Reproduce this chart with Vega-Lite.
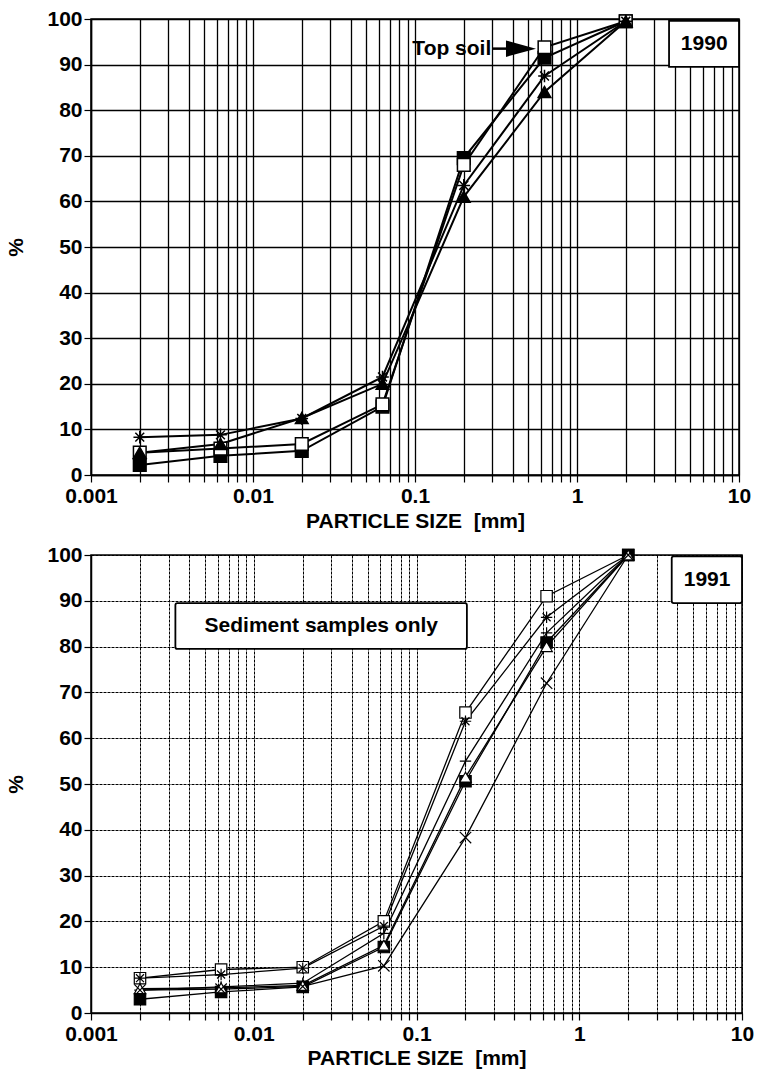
{
  "$schema": "https://vega.github.io/schema/vega-lite/v6.json",
  "background": "white",
  "padding": {"left": 5, "top": 7, "right": 10, "bottom": 5},
  "spacing": 11,
  "config": {
    "font": "Liberation Sans",
    "view": {"stroke": "black", "strokeWidth": 1.5},
    "axis": {
      "labelFont": "Liberation Sans", "labelFontWeight": "bold", "labelFontSize": 21, "labelColor": "black",
      "titleFont": "Liberation Sans", "titleFontWeight": "bold", "titleFontSize": 21, "titleColor": "black",
      "domainColor": "black", "domainWidth": 1.5, "tickColor": "black", "tickSize": 7, "tickWidth": 1.2,
      "gridColor": "black", "gridOpacity": 1, "labelPadding": 2
    }
  },
  "datasets": {
    "top": [
      {"series": "filled square", "size": 0.002, "pct": 2.2},
      {"series": "filled square", "size": 0.0063, "pct": 4.2},
      {"series": "filled square", "size": 0.02, "pct": 5.3},
      {"series": "filled square", "size": 0.063, "pct": 15},
      {"series": "filled square", "size": 0.2, "pct": 69.5},
      {"series": "filled square", "size": 0.63, "pct": 91.5},
      {"series": "filled square", "size": 2, "pct": 99.5},
      {"series": "open square", "size": 0.002, "pct": 4.9},
      {"series": "open square", "size": 0.0063, "pct": 5.8},
      {"series": "open square", "size": 0.02, "pct": 6.8},
      {"series": "open square", "size": 0.063, "pct": 15.5},
      {"series": "open square", "size": 0.2, "pct": 68},
      {"series": "open square", "size": 0.63, "pct": 93.8},
      {"series": "open square", "size": 2, "pct": 99.5},
      {"series": "star", "size": 0.002, "pct": 8.3},
      {"series": "star", "size": 0.0063, "pct": 8.8},
      {"series": "star", "size": 0.02, "pct": 12.4},
      {"series": "star", "size": 0.063, "pct": 21.5},
      {"series": "star", "size": 0.2, "pct": 63.5},
      {"series": "star", "size": 0.63, "pct": 87.5},
      {"series": "star", "size": 2, "pct": 99.5},
      {"series": "triangle", "size": 0.002, "pct": 4.9},
      {"series": "triangle", "size": 0.0063, "pct": 6.8},
      {"series": "triangle", "size": 0.02, "pct": 12.5},
      {"series": "triangle", "size": 0.063, "pct": 20},
      {"series": "triangle", "size": 0.2, "pct": 61},
      {"series": "triangle", "size": 0.63, "pct": 84},
      {"series": "triangle", "size": 2, "pct": 99.5}
    ],
    "bottom": [
      {"series": "open square", "size": 0.002, "pct": 7.6},
      {"series": "open square", "size": 0.0063, "pct": 9.5},
      {"series": "open square", "size": 0.02, "pct": 10},
      {"series": "open square", "size": 0.063, "pct": 20},
      {"series": "open square", "size": 0.2, "pct": 65.6},
      {"series": "open square", "size": 0.63, "pct": 91},
      {"series": "open square", "size": 2, "pct": 100},
      {"series": "star", "size": 0.002, "pct": 7.6},
      {"series": "star", "size": 0.0063, "pct": 8.4},
      {"series": "star", "size": 0.02, "pct": 9.8},
      {"series": "star", "size": 0.063, "pct": 19},
      {"series": "star", "size": 0.2, "pct": 63.7},
      {"series": "star", "size": 0.63, "pct": 86.4},
      {"series": "star", "size": 2, "pct": 100},
      {"series": "plus", "size": 0.002, "pct": 5},
      {"series": "plus", "size": 0.0063, "pct": 5.7},
      {"series": "plus", "size": 0.02, "pct": 6.5},
      {"series": "plus", "size": 0.063, "pct": 17.4},
      {"series": "plus", "size": 0.2, "pct": 55},
      {"series": "plus", "size": 0.63, "pct": 83},
      {"series": "plus", "size": 2, "pct": 100},
      {"series": "filled square", "size": 0.002, "pct": 3},
      {"series": "filled square", "size": 0.0063, "pct": 4.6},
      {"series": "filled square", "size": 0.02, "pct": 5.7},
      {"series": "filled square", "size": 0.063, "pct": 14.4},
      {"series": "filled square", "size": 0.2, "pct": 50.6},
      {"series": "filled square", "size": 0.63, "pct": 80.9},
      {"series": "filled square", "size": 2, "pct": 100},
      {"series": "open triangle", "size": 0.002, "pct": 5.3},
      {"series": "open triangle", "size": 0.0063, "pct": 5.5},
      {"series": "open triangle", "size": 0.02, "pct": 6},
      {"series": "open triangle", "size": 0.063, "pct": 14.8},
      {"series": "open triangle", "size": 0.2, "pct": 51.5},
      {"series": "open triangle", "size": 0.63, "pct": 80},
      {"series": "open triangle", "size": 2, "pct": 100},
      {"series": "cross", "size": 0.002, "pct": 5},
      {"series": "cross", "size": 0.0063, "pct": 5.2},
      {"series": "cross", "size": 0.02, "pct": 5.8},
      {"series": "cross", "size": 0.063, "pct": 10.3},
      {"series": "cross", "size": 0.2, "pct": 38.3},
      {"series": "cross", "size": 0.63, "pct": 72},
      {"series": "cross", "size": 2, "pct": 100}
    ],
    "topBox": [{"size": 3.7, "size2": 10, "pct": 89.5, "pct2": 99.6, "label": "1990", "tx": 6.1, "ty": 94.5}],
    "bottomBoxes": [
      {"size": 3.7, "size2": 10, "pct": 89.5, "pct2": 99.7, "label": "1991", "tx": 6.1, "ty": 94.5},
      {"size": 0.0033, "size2": 0.204, "pct": 79.5, "pct2": 89.5, "label": "Sediment samples only", "tx": 0.026, "ty": 84.5}
    ],
    "arrow": [{"size": 0.3, "size2": 0.37, "pct": 93.5, "head": 0.451, "label": "Top soil"}]
  },
  "vconcat": [
    {
      "width": 648,
      "height": 456,
      "encoding": {
        "x": {"field": "size", "type": "quantitative", "scale": {"type": "log", "domain": [0.001, 10]},
          "axis": {"title": "PARTICLE SIZE\u00a0 [mm]", "values": [0.001,0.002,0.003,0.004,0.005,0.006,0.007,0.008,0.009,0.01,0.02,0.03,0.04,0.05,0.06,0.07,0.08,0.09,0.1,0.2,0.3,0.4,0.5,0.6,0.7,0.8,0.9,1,2,3,4,5,6,7,8,9,10],
            "format": "~g", "labelExpr": "indexof([0.001,0.01,0.1,1,10], datum.value) >= 0 ? datum.label : ''", "gridWidth": 1.3, "labelFlush": false, "labelPadding": 3, "titlePadding": 4}},
        "y": {"field": "pct", "type": "quantitative", "scale": {"domain": [0, 100]},
          "axis": {"title": "%", "values": [0,10,20,30,40,50,60,70,80,90,100], "gridWidth": 1.3, "titlePadding": 20}}
      },
      "layer": [
        {"data": {"name": "top"}, "mark": {"type": "line", "color": "black", "strokeWidth": 2},
          "encoding": {"detail": {"field": "series"}}},
        {"data": {"name": "top"}, "mark": {"type": "point", "filled": true, "stroke": "black", "strokeWidth": 1.5, "opacity": 1, "size": 160},
          "encoding": {
            "shape": {"field": "series", "type": "nominal", "legend": null,
              "scale": {"domain": ["filled square","open square","star","triangle","plus","cross","open triangle"],
                "range": ["square","square","M -1 0 L 1 0 M 0 -1 L 0 1 M -0.7 -0.7 L 0.7 0.7 M -0.7 0.7 L 0.7 -0.7","triangle-up","M -1 0 L 1 0 M 0 -1 L 0 1","M -1 -1 L 1 1 M -1 1 L 1 -1","triangle-up"]}},
            "fill": {"field": "series", "type": "nominal", "legend": null,
              "scale": {"domain": ["filled square","open square","star","triangle","plus","cross","open triangle"],
                "range": ["black","white","transparent","black","transparent","transparent","white"]}}
          }},
        {"data": {"name": "topBox"}, "mark": {"type": "rect", "fill": "white", "stroke": "black", "strokeWidth": 1.8},
          "encoding": {"x2": {"field": "size2"}, "y2": {"field": "pct2"}}},
        {"data": {"name": "topBox"}, "mark": {"type": "text", "font": "Liberation Sans", "fontWeight": "bold", "fontSize": 21, "color": "black"},
          "encoding": {"x": {"field": "tx", "type": "quantitative"}, "y": {"field": "ty", "type": "quantitative"}, "text": {"field": "label"}}},
        {"data": {"name": "arrow"}, "mark": {"type": "text", "font": "Liberation Sans", "fontWeight": "bold", "fontSize": 21, "color": "black", "align": "right", "dx": -1},
          "encoding": {"text": {"field": "label"}}},
        {"data": {"name": "arrow"}, "mark": {"type": "rule", "color": "black", "strokeWidth": 2.5},
          "encoding": {"x2": {"field": "size2"}}},
        {"data": {"name": "arrow"}, "mark": {"type": "point", "shape": "M -1 -0.55 L 1 0 L -1 0.55 Z", "filled": true, "color": "black", "opacity": 1, "size": 900},
          "encoding": {"x": {"field": "head", "type": "quantitative"}}}
      ]
    },
    {
      "width": 651,
      "height": 458,
      "encoding": {
        "x": {"field": "size", "type": "quantitative", "scale": {"type": "log", "domain": [0.001, 10]},
          "axis": {"title": "PARTICLE SIZE\u00a0 [mm]", "values": [0.001,0.002,0.003,0.004,0.005,0.006,0.007,0.008,0.009,0.01,0.02,0.03,0.04,0.05,0.06,0.07,0.08,0.09,0.1,0.2,0.3,0.4,0.5,0.6,0.7,0.8,0.9,1,2,3,4,5,6,7,8,9,10],
            "format": "~g", "labelExpr": "indexof([0.001,0.01,0.1,1,10], datum.value) >= 0 ? datum.label : ''", "gridWidth": 1, "gridDash": [3, 1], "labelFlush": false, "labelPadding": 3, "titlePadding": 3}},
        "y": {"field": "pct", "type": "quantitative", "scale": {"domain": [0, 100]},
          "axis": {"title": "%", "values": [0,10,20,30,40,50,60,70,80,90,100], "gridWidth": 1, "gridDash": [3, 1], "titlePadding": 20}}
      },
      "layer": [
        {"data": {"name": "bottom"}, "mark": {"type": "line", "color": "black", "strokeWidth": 1.3},
          "encoding": {"detail": {"field": "series"}}},
        {"data": {"name": "bottom"}, "mark": {"type": "point", "filled": true, "stroke": "black", "strokeWidth": 1.2, "opacity": 1, "size": 130},
          "encoding": {
            "shape": {"field": "series", "type": "nominal", "legend": null,
              "scale": {"domain": ["filled square","open square","star","triangle","plus","cross","open triangle"],
                "range": ["square","square","M -1 0 L 1 0 M 0 -1 L 0 1 M -0.7 -0.7 L 0.7 0.7 M -0.7 0.7 L 0.7 -0.7","triangle-up","M -1 0 L 1 0 M 0 -1 L 0 1","M -1 -1 L 1 1 M -1 1 L 1 -1","triangle-up"]}},
            "fill": {"field": "series", "type": "nominal", "legend": null,
              "scale": {"domain": ["filled square","open square","star","triangle","plus","cross","open triangle"],
                "range": ["black","white","transparent","black","transparent","transparent","white"]}}
          }},
        {"data": {"name": "bottomBoxes"}, "mark": {"type": "rect", "fill": "white", "stroke": "black", "strokeWidth": 1.8, "cornerRadius": 2},
          "encoding": {"x2": {"field": "size2"}, "y2": {"field": "pct2"}}},
        {"data": {"name": "bottomBoxes"}, "mark": {"type": "text", "font": "Liberation Sans", "fontWeight": "bold", "fontSize": 21, "color": "black"},
          "encoding": {"x": {"field": "tx", "type": "quantitative"}, "y": {"field": "ty", "type": "quantitative"}, "text": {"field": "label"}}}
      ]
    }
  ]
}
